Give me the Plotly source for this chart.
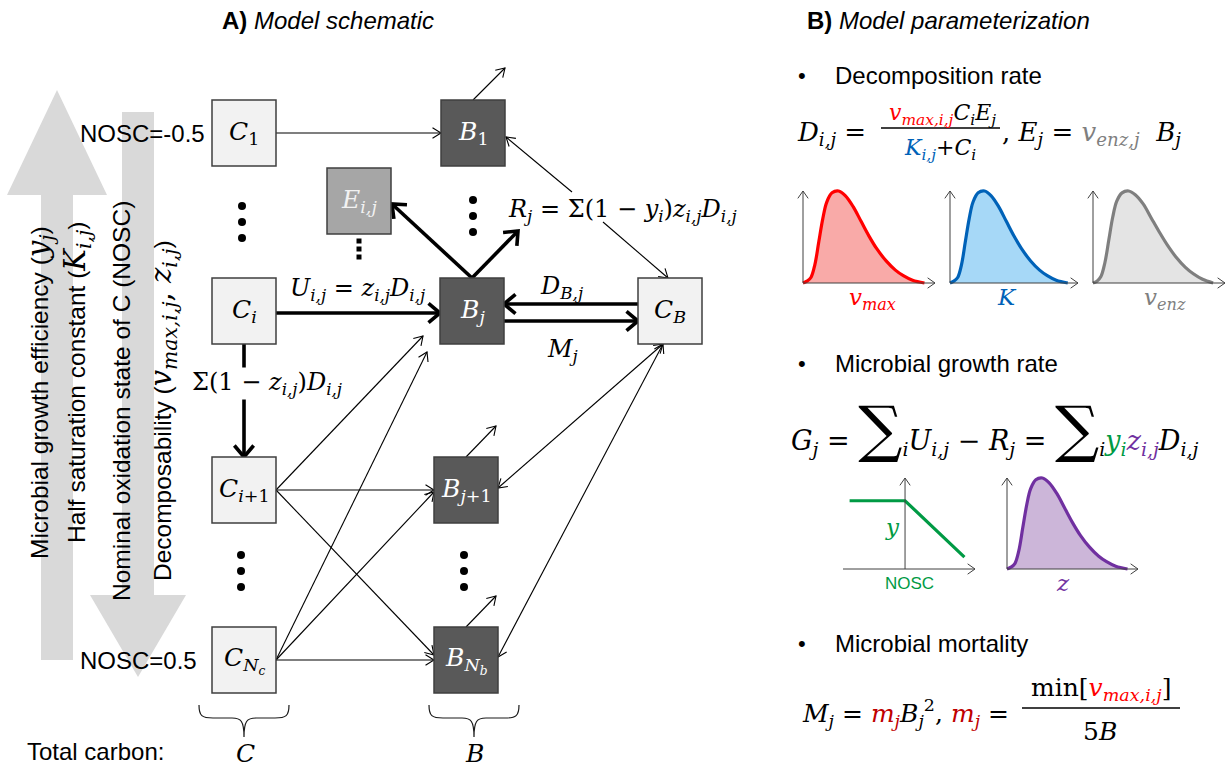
import math
import plotly.graph_objects as go

W, H = 1227, 769
SANS = "Liberation Sans, Arial, sans-serif"
SERIF = "DejaVu Serif, serif"
INK = "#000000"
RED, BLUE, GREY = "#ff0000", "#0062b8", "#7f7f7f"
GREEN, PURPLE, DARKRED = "#009a44", "#7030a0", "#c00000"

# ---------------- pools and labels ----------------
C_POOLS = ["<i>C</i><sub>1</sub>", "<i>C</i><sub><i>i</i></sub>",
           "<i>C</i><sub><i>i</i>+1</sub>", "<i>C</i><sub><i>N</i><sub><i>c</i></sub></sub>"]
B_POOLS = ["<i>B</i><sub>1</sub>", "<i>B</i><sub><i>j</i></sub>",
           "<i>B</i><sub><i>j</i>+1</sub>", "<i>B</i><sub><i>N</i><sub><i>b</i></sub></sub>"]
ENZYME = "<i>E</i><sub><i>i,j</i></sub>"
NECROMASS = "<i>C</i><sub><i>B</i></sub>"
NOSC_ENDS = ["NOSC=-0.5", "NOSC=0.5"]

MS = "<span style='font-family:DejaVu Serif;font-size:29px'>"
GRADIENT_TEXTS = [
    "Microbial growth efficiency (" + MS + "<i>y</i><sub><i>j</i></sub></span>)",
    "Half saturation constant (" + MS + "<i>K</i><sub><i>i,j</i></sub></span>)",
    "Nominal oxidation state of C (NOSC)",
    "Decomposability (" + MS + "<i>v</i><sub><i>max,i,j</i></sub>, <i>z</i><sub><i>i,j</i></sub></span>)",
]

FLUX_U = "<i>U</i><sub><i>i,j</i></sub> = <i>z</i><sub><i>i,j</i></sub><i>D</i><sub><i>i,j</i></sub>"
FLUX_LOSS = "Σ(1 − <i>z</i><sub><i>i,j</i></sub>)<i>D</i><sub><i>i,j</i></sub>"
FLUX_R = ("<i>R</i><sub><i>j</i></sub> = Σ(1 − <i>y</i><sub><i>i</i></sub>)"
          "<i>z</i><sub><i>i,j</i></sub><i>D</i><sub><i>i,j</i></sub>")
FLUX_DB = "<i>D</i><sub><i>B,j</i></sub>"
FLUX_M = "<i>M</i><sub><i>j</i></sub>"

# ---------------- trait distributions (fraction of axis length / height) ----------------
VMAX_X = [0.00, 0.03, 0.06, 0.09, 0.12, 0.15, 0.18, 0.22, 0.27, 0.32, 0.38, 0.44, 0.50, 0.56, 0.63, 0.70, 0.76, 0.83, 0.92]
VMAX_Y = [0.00, 0.02, 0.06, 0.20, 0.45, 0.70, 0.88, 0.98, 1.00, 0.95, 0.83, 0.67, 0.51, 0.37, 0.24, 0.14, 0.08, 0.03, 0.00]
K_X = [0.00, 0.03, 0.06, 0.09, 0.12, 0.15, 0.18, 0.22, 0.27, 0.32, 0.38, 0.44, 0.50, 0.56, 0.63, 0.70, 0.76, 0.83, 0.92]
K_Y = [0.00, 0.02, 0.06, 0.20, 0.45, 0.70, 0.88, 0.98, 1.00, 0.95, 0.83, 0.67, 0.51, 0.37, 0.24, 0.14, 0.08, 0.03, 0.00]
VENZ_X = [0.00, 0.03, 0.06, 0.09, 0.12, 0.15, 0.18, 0.22, 0.27, 0.32, 0.38, 0.44, 0.50, 0.56, 0.63, 0.70, 0.76, 0.83, 0.91]
VENZ_Y = [0.00, 0.02, 0.07, 0.22, 0.47, 0.72, 0.89, 0.98, 1.00, 0.96, 0.86, 0.71, 0.56, 0.42, 0.28, 0.17, 0.10, 0.04, 0.00]
Z_X = [0.00, 0.03, 0.06, 0.09, 0.12, 0.15, 0.18, 0.22, 0.27, 0.32, 0.38, 0.44, 0.50, 0.56, 0.63, 0.70, 0.76, 0.83, 0.92]
Z_Y = [0.00, 0.02, 0.06, 0.20, 0.45, 0.70, 0.88, 0.98, 1.00, 0.95, 0.83, 0.67, 0.51, 0.37, 0.24, 0.14, 0.08, 0.03, 0.00]
# growth efficiency vs NOSC (plateau, then linear decline)
YEFF_X = [0.05, 0.47, 0.92]
YEFF_Y = [0.75, 0.75, 0.13]

shapes, annots = [], []


def txt(x, y, text, size=24, color=INK, family=SERIF, xa="center", ya="middle", **kw):
    annots.append(dict(x=x, y=y, xref="x", yref="y", text=text, showarrow=False,
                       xanchor=xa, yanchor=ya, font=dict(family=family, size=size, color=color), **kw))


def path(pts, close=False):
    s = "M " + " L ".join(f"{x:.2f},{y:.2f}" for x, y in pts)
    return s + (" Z" if close else "")


def arrow(p0, p1, width=1.1, head=10, half=32, color=INK, both=False):
    shapes.append(dict(type="path", xref="x", yref="y", path=path([p0, p1]),
                       line=dict(color=color, width=width)))
    ends = [(p0, p1), (p1, p0)] if both else [(p0, p1)]
    for a, b in ends:
        dx, dy = b[0] - a[0], b[1] - a[1]
        L = math.hypot(dx, dy)
        ux, uy = dx / L, dy / L
        wing = []
        for s in (1, -1):
            t = math.radians(half) * s
            rx = ux * math.cos(t) - uy * math.sin(t)
            ry = ux * math.sin(t) + uy * math.cos(t)
            wing.append((b[0] - head * rx, b[1] - head * ry))
        shapes.append(dict(type="path", xref="x", yref="y", path=path([wing[0], b, wing[1]]),
                           line=dict(color=color, width=width)))


def thick(p0, p1):
    arrow(p0, p1, width=3.6, head=15, half=40)


# ---------------- background gradient arrows ----------------
UP = dict(cx=57, half_shaft=16, tip=90, base=195, half_head=50, end=660)
DOWN = dict(cx=138, half_shaft=16, tip=677, base=595, half_head=48, end=112)
for g in (UP, DOWN):
    c, s, hh = g["cx"], g["half_shaft"], g["half_head"]
    pts = [(c - s, g["end"]), (c - s, g["base"]), (c - hh, g["base"]), (c, g["tip"]),
           (c + hh, g["base"]), (c + s, g["base"]), (c + s, g["end"])]
    shapes.append(dict(type="path", xref="x", yref="y", path=path(pts, True),
                       fillcolor="#d9d9d9", line=dict(width=0), layer="below"))

for (x, y), t in zip([(40, 393), (77, 383), (121, 401), (163, 411)], GRADIENT_TEXTS):
    txt(x, y, t, size=24.5, family=SANS, textangle=-90)

# ---------------- pools ----------------
BW, BH = 64, 66
NODES = {
    "C1": (244, 133), "Ci": (244, 311), "Ci1": (244, 490), "CN": (244, 660),
    "B1": (473, 133), "Bj": (472, 311), "Bj1": (466, 490), "BN": (466, 660),
    "E": (359, 201), "CB": (670, 311),
}


def edge(n, side, d=0):
    cx, cy = NODES[n]
    return {"l": (cx - BW / 2, cy + d), "r": (cx + BW / 2, cy + d),
            "t": (cx + d, cy - BH / 2), "b": (cx + d, cy + BH / 2)}[side]


def box(n, label, fill, color):
    cx, cy = NODES[n]
    shapes.append(dict(type="rect", xref="x", yref="y", x0=cx - BW / 2, x1=cx + BW / 2,
                       y0=cy - BH / 2, y1=cy + BH / 2, fillcolor=fill,
                       line=dict(color="#3f3f3f", width=1.5)))
    txt(cx, cy, label, size=25, color=color)


# arrows first so boxes sit on top of their ends
arrow(edge("C1", "r"), edge("B1", "l"))
b1t = edge("B1", "t")
arrow(b1t, (b1t[0] + 32, b1t[1] - 32))
arrow((572, 192), (edge("B1", "r")[0] + 1, 137))
arrow((603, 222), (668, edge("CB", "t")[1]))
bjt = edge("Bj", "t")
thick(bjt, (edge("E", "r")[0] + 1, 204))
thick(bjt, (bjt[0] + 46, bjt[1] - 47))
thick(edge("Ci", "r", 2), edge("Bj", "l", 2))
thick(edge("CB", "l", -7), edge("Bj", "r", -7))
thick(edge("Bj", "r", 10), edge("CB", "l", 10))
thick(edge("Ci", "b"), edge("Ci1", "t"))
ci1, cn = edge("Ci1", "r"), edge("CN", "r")
arrow(ci1, (423, 336))
arrow(ci1, edge("Bj1", "l"))
arrow(ci1, edge("BN", "l", -5))
arrow(cn, edge("BN", "l"))
arrow(cn, edge("Bj1", "l", 2))
arrow(cn, (427, 352))
cb_b = edge("CB", "b", -7)
arrow(cb_b, edge("Bj1", "r", -2), both=True)
arrow(cb_b, edge("BN", "r", -3), both=True)
for n in ("Bj1", "BN"):
    p = edge(n, "t")
    arrow(p, (p[0] + 30, p[1] - 31))

for n, lab in zip(("C1", "Ci", "Ci1", "CN"), C_POOLS):
    box(n, lab, "#f2f2f2", INK)
for n, lab in zip(("B1", "Bj", "Bj1", "BN"), B_POOLS):
    box(n, lab, "#595959", "#ffffff")
box("E", ENZYME, "#a6a6a6", "#f2f2f2")
box("CB", NECROMASS, "#f2f2f2", INK)

# ellipsis dots between pools
DOT_X = [242, 242, 242, 473, 473, 473, 241, 241, 241, 464, 464, 464]
DOT_Y = [206, 222, 238, 200, 216, 232, 555, 571, 587, 555, 571, 587]
fig = go.Figure()
fig.add_trace(go.Scatter(x=DOT_X, y=DOT_Y, mode="markers", xaxis="x", yaxis="y",
                         marker=dict(size=8, color=INK), hoverinfo="skip", showlegend=False))
fig.add_trace(go.Scatter(x=[359, 359, 359], y=[241, 249, 257], mode="markers", xaxis="x", yaxis="y",
                         marker=dict(size=5, symbol="square", color=INK), hoverinfo="skip", showlegend=False))

# flux labels
txt(357, 289, FLUX_U, size=24)
txt(267, 383, FLUX_LOSS, size=24, bgcolor="#ffffff", borderpad=0)
txt(622, 210, FLUX_R, size=24)
txt(561, 287, FLUX_DB, size=24)
txt(562, 350, FLUX_M, size=24)

# NOSC range labels
txt(207, 133, NOSC_ENDS[0], family=SANS, xa="right")
txt(199, 660, NOSC_ENDS[1], family=SANS, xa="right")

# total carbon braces
for cx, x0, x1 in ((244, 199, 289), (474, 429, 519)):
    top, mid, tip = 705, 718, 737
    d = (f"M {x0},{top} C {x0},{mid-2} {x0+3},{mid} {x0+14},{mid} L {cx-12},{mid} "
         f"C {cx-3},{mid} {cx},{mid+3} {cx},{tip} C {cx},{mid+3} {cx+3},{mid} {cx+12},{mid} "
         f"L {x1-14},{mid} C {x1-3},{mid} {x1},{mid-2} {x1},{top}")
    shapes.append(dict(type="path", xref="x", yref="y", path=d, line=dict(color="#1a1a1a", width=1.2)))
txt(25, 751, "Total carbon:", family=SANS, xa="left")
txt(245, 753, "<i>C</i>", size=25)
txt(474, 753, "<i>B</i>", size=25)

# titles
txt(220, 20, "<b>A)</b> <i>Model schematic</i>", family=SANS, xa="left")
txt(805, 20, "<b>B)</b> <i>Model parameterization</i>", family=SANS, xa="left")

# ---------------- parameterization panel ----------------
for y, t in ((75, "Decomposition rate"), (363, "Microbial growth rate"), (643, "Microbial mortality")):
    txt(802, y, "•", family=SANS, size=22)
    txt(833, y, t, family=SANS, xa="left")


def col(c, s):
    return f"<span style='color:{c}'>{s}</span>"


VMAX_T = "<i>v</i><sub><i>max,i,j</i></sub>"
txt(795, 133, "<i>D</i><sub><i>i,j</i></sub> =", size=26, xa="left")
txt(942, 114, col(RED, VMAX_T) + "<i>C</i><sub><i>i</i></sub><i>E</i><sub><i>j</i></sub>", size=22)
txt(940, 149, col(BLUE, "<i>K</i><sub><i>i,j</i></sub>") + "+<i>C</i><sub><i>i</i></sub>", size=22)
shapes.append(dict(type="line", xref="x", yref="y", x0=881, x1=1000, y0=128, y1=128,
                   line=dict(color=INK, width=1.3)))
txt(1000, 133, ", <i>E</i><sub><i>j</i></sub> = " + col(GREY, "<i>v</i><sub><i>enz,j</i></sub>")
    + "  <i>B</i><sub><i>j</i></sub>", size=26, xa="left")

BIG = "<span style='font-size:62px'>∑</span>"
txt(789, 428, "<i>G</i><sub><i>j</i></sub> = " + BIG + "<sub><i>i</i></sub><i>U</i><sub><i>i,j</i></sub> − "
    "<i>R</i><sub><i>j</i></sub> = " + BIG + "<sub><i>i</i></sub>"
    + col(GREEN, "<i>y</i><sub><i>i</i></sub>") + col(PURPLE, "<i>z</i><sub><i>i,j</i></sub>")
    + "<i>D</i><sub><i>i,j</i></sub>", size=27, xa="left")

MJ = col(DARKRED, "<i>m</i><sub><i>j</i></sub>")
txt(800, 713, "<i>M</i><sub><i>j</i></sub> = " + MJ + "<i>B</i><sub><i>j</i></sub><sup>2</sup>, " + MJ + " =",
    size=25, xa="left")
txt(1101, 689, "min[" + col(RED, VMAX_T) + "]", size=25)
shapes.append(dict(type="line", xref="x", yref="y", x0=1022, x1=1180, y0=708, y1=708,
                   line=dict(color=INK, width=1.3)))
txt(1100, 731, "5<i>B</i>", size=25)

# ---------------- small distribution panels ----------------
MINI = [
    # (left px, baseline px, axis length px, height px, y-axis position, xs, ys, line, fill)
    (803, 283, 132, 92, 0.0, VMAX_X, VMAX_Y, RED, "#f9aaa8"),
    (950, 283, 128, 92, 0.0, K_X, K_Y, BLUE, "#a6d8f7"),
    (1093, 283, 132, 92, 0.0, VENZ_X, VENZ_Y, GREY, "#e4e4e4"),
    (843, 569, 132, 91, 0.47, YEFF_X, YEFF_Y, GREEN, None),
    (1007, 569, 131, 91, 0.0, Z_X, Z_Y, PURPLE, "#ccb6d9"),
]
layout_axes = {}
for k, (left, base, length, height, yat, xs, ys, lc, fc) in enumerate(MINI):
    n = k + 2
    pl, pr = 8, min(8, W - (left + length) - 0.5)
    pt, pb = 8, 8
    layout_axes[f"xaxis{n}"] = dict(domain=[(left - pl) / W, (left + length + pr) / W],
                                    range=[-pl / length, 1 + pr / length], visible=False,
                                    anchor=f"y{n}", fixedrange=True)
    layout_axes[f"yaxis{n}"] = dict(domain=[1 - (base + pb) / H, 1 - (base - height - pt) / H],
                                    range=[-pb / height, 1 + pt / height], visible=False,
                                    anchor=f"x{n}", fixedrange=True)
    fig.add_trace(go.Scatter(
        x=xs, y=ys, xaxis=f"x{n}", yaxis=f"y{n}", mode="lines",
        line=dict(color=lc, width=3.2, shape="spline" if fc else "linear", smoothing=1.0),
        fill="toself" if fc else None, fillcolor=fc, hoverinfo="skip", showlegend=False,
        cliponaxis=False))
    ax_x = left + yat * length
    arrow((ax_x, base), (ax_x, base - height), width=1.0, head=9, half=35, color="#404040")
    arrow((left, base), (left + length, base), width=1.0, head=9, half=35, color="#404040")

txt(872, 299, col(RED, "<i>v</i><sub><i>max</i></sub>"), size=23)
txt(1007, 297, col(BLUE, "<i>K</i>"), size=23)
txt(1165, 299, col(GREY, "<i>v</i><sub><i>enz</i></sub>"), size=23)
txt(892, 527, col(GREEN, "<i>y</i>"), size=23)
txt(909, 583, col(GREEN, "NOSC"), size=17, family=SANS)
txt(1063, 583, col(PURPLE, "<i>z</i>"), size=23)

fig.update_layout(
    width=W, height=H, margin=dict(l=0, r=0, t=0, b=0),
    paper_bgcolor="#ffffff", plot_bgcolor="#ffffff",
    xaxis=dict(range=[0, W], domain=[0, 1], visible=False, fixedrange=True),
    yaxis=dict(range=[H, 0], domain=[0, 1], visible=False, fixedrange=True),
    shapes=shapes, annotations=annots, showlegend=False,
    **layout_axes,
)
fig.write_html("out.html")
